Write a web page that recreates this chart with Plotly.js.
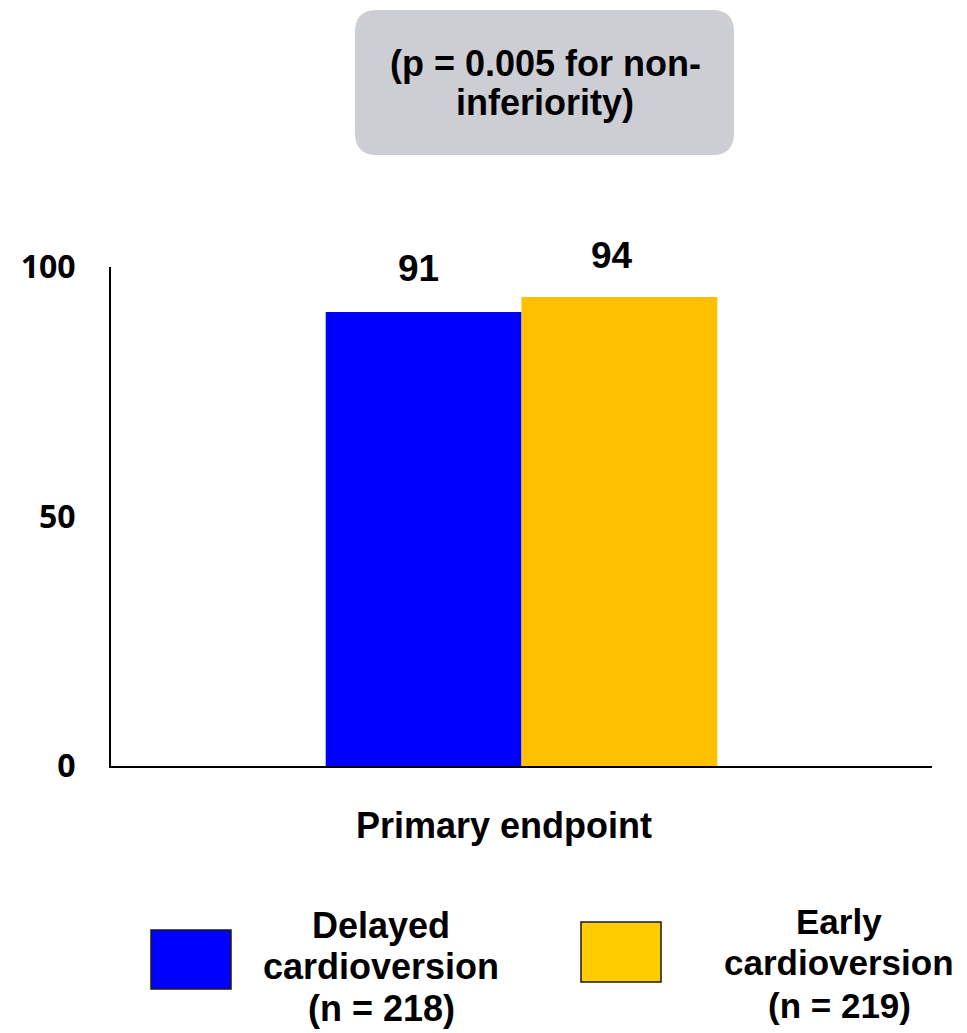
<!DOCTYPE html>
<html>
<head>
<meta charset="utf-8">
<script src="https://cdn.plot.ly/plotly-3.0.1.min.js"></script>
<style>html,body{margin:0;padding:0;background:#fff;}#chart{width:967px;height:1033px;}</style>
</head>
<body>
<div id="chart"></div>
<script>
// ---- data ----
const categories = ['Primary endpoint'];
const seriesNames = ['Delayed cardioversion (n = 218)', 'Early cardioversion (n = 219)'];
const legendLines = [['Delayed', 'cardioversion', '(n = 218)'], ['Early', 'cardioversion', '(n = 219)']];
const delayedValues = [91];
const earlyValues = [94];
const yTickValues = [0, 50, 100];
const yTickLabels = ['0', '50', '100'];
const noteLines = ['(p = 0.005 for non-', 'inferiority)'];

// ---- layout helpers (pixel -> paper) ----
const W = 967, H = 1033;
const L = 111, R = 932, T = 267, B = 766;
const px = X => (X - L) / (R - L);
const py = Y => (B - Y) / (B - T);

function roundedRectPath(x0, y0, x1, y1, r) {
  const p = (X, Y) => px(X).toFixed(5) + ',' + py(Y).toFixed(5);
  return 'M' + p(x0 + r, y0) + ' L' + p(x1 - r, y0) + ' Q' + p(x1, y0) + ' ' + p(x1, y0 + r) +
    ' L' + p(x1, y1 - r) + ' Q' + p(x1, y1) + ' ' + p(x1 - r, y1) +
    ' L' + p(x0 + r, y1) + ' Q' + p(x0, y1) + ' ' + p(x0, y1 - r) +
    ' L' + p(x0, y0 + r) + ' Q' + p(x0, y0) + ' ' + p(x0 + r, y0) + ' Z';
}

const ARIAL = 'Liberation Sans, Arial, Helvetica, sans-serif';
const barColors = ['#0000FF', '#FFC000'];
const swatchColors = ['#0000FF', '#FFCC00'];

const traces = [
  {type: 'bar', name: seriesNames[0], x: categories, y: delayedValues,
   marker: {color: barColors[0], line: {width: 0}}, hoverinfo: 'none'},
  {type: 'bar', name: seriesNames[1], x: categories, y: earlyValues,
   marker: {color: barColors[1], line: {width: 0}}, hoverinfo: 'none'}
];

const annotations = [];
// value labels
[[delayedValues, -103, 43], [earlyValues, 90, 41]].forEach(([vals, xs, ys]) => {
  vals.forEach((v, i) => annotations.push({
    x: categories[i], y: v, xref: 'x', yref: 'y', text: String(v), showarrow: false,
    xshift: xs, yshift: ys, xanchor: 'center', yanchor: 'middle',
    font: {family: ARIAL, size: 37, color: '#000', weight: 'bold'}
  }));
});
// category label
categories.forEach(c => annotations.push({
  x: c, y: 0, xref: 'x', yref: 'y', text: c, showarrow: false,
  xshift: -18, yshift: -59, xanchor: 'center', yanchor: 'middle',
  font: {family: ARIAL, size: 36, color: '#000', weight: 'bold'}
}));
// note box text
const noteY = [63, 102];
noteLines.forEach((t, i) => annotations.push({
  x: px(545), y: py(noteY[i]), xref: 'paper', yref: 'paper', text: t, showarrow: false,
  xanchor: 'center', yanchor: 'middle',
  font: {family: ARIAL, size: 36, color: '#000', weight: 'bold'}
}));
// legend text
const legendCx = [381, 839];
const legendSizes = [36, 35];
const legendRowY = [[925, 966, 1008], [921, 962, 1005]];
legendLines.forEach((lines, s) => lines.forEach((t, i) => annotations.push({
  x: px(legendCx[s]), y: py(legendRowY[s][i]), xref: 'paper', yref: 'paper', text: t, showarrow: false,
  xanchor: 'center', yanchor: 'middle',
  font: {family: ARIAL, size: legendSizes[s], color: '#000', weight: 'bold'}
})));

const swatchBoxes = [[151, 930, 231, 989], [581, 922, 661, 982]];
const shapes = [
  {type: 'path', xref: 'paper', yref: 'paper', path: roundedRectPath(355, 10, 734, 155, 22),
   fillcolor: '#CDCED3', line: {width: 0}, layer: 'below'}
];
swatchBoxes.forEach((b, s) => shapes.push({
  type: 'rect', xref: 'paper', yref: 'paper', x0: px(b[0]), x1: px(b[2]), y0: py(b[3]), y1: py(b[1]),
  fillcolor: swatchColors[s], line: {color: '#1a1a1a', width: 1.5}
}));

const layout = {
  width: W, height: H,
  margin: {l: L, r: W - R, t: T, b: H - B, pad: 0},
  paper_bgcolor: '#fff', plot_bgcolor: '#fff',
  barmode: 'group', bargap: 0.523, bargroupgap: 0,
  showlegend: false,
  xaxis: {type: 'category', showticklabels: false, ticks: '', showgrid: false, zeroline: false,
          showline: true, linecolor: '#000', linewidth: 2, fixedrange: true},
  yaxis: {range: [0, 100], tickvals: yTickValues, ticktext: yTickLabels, ticks: '',
          showgrid: false, zeroline: false, showline: true, linecolor: '#000', linewidth: 2,
          ticklabelstandoff: 27,
          tickfont: {family: 'Open Sans, sans-serif', size: 32, color: '#000', weight: 'bold'},
          fixedrange: true},
  annotations: annotations,
  shapes: shapes
};

Plotly.newPlot('chart', traces, layout, {displayModeBar: false, staticPlot: true});
</script>
</body>
</html>
